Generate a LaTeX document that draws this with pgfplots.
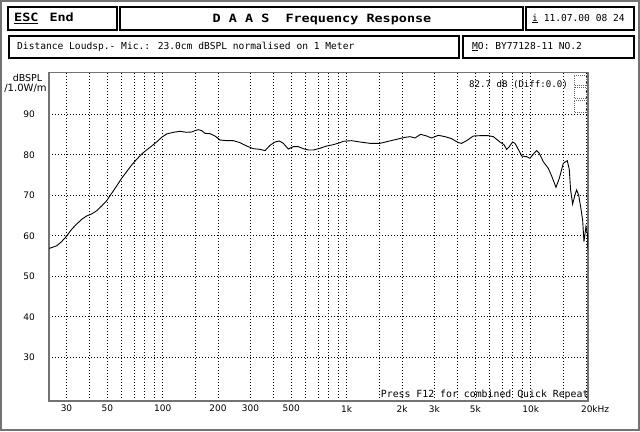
\documentclass[border=0pt]{standalone}
\usepackage{graphicx}
\usepackage{pgfplots}
\pgfplotsset{compat=1.18}
\usepackage{fontspec}
\setmainfont{DejaVu Sans}
\newfontfamily\mono{DejaVu Sans Mono}
\newfontfamily\sans{DejaVu Sans}
\begin{document}
\begin{tikzpicture}[x=1bp,y=1bp]
\path[use as bounding box] (0,0) rectangle (640,431);
\draw[black!55, line width=2bp] (1,1) rectangle (639,430);
% header boxes
\draw[line width=2bp] (8,401) rectangle (117,424);
\draw[line width=2bp] (119.5,401) rectangle (523,424);
\draw[line width=2bp] (526,401) rectangle (634,424);
\draw[line width=2bp] (9,372.7) rectangle (459,395);
\draw[line width=2bp] (463,372.7) rectangle (634,395);
\node[anchor=west, inner sep=0] at (14,412.5) {\mono\bfseries\fontsize{11.4bp}{12bp}\selectfont\scalebox{1.18}[1]{\underline{ESC}\hspace{2.5bp} End}};
\node[anchor=center, inner sep=0] at (322,412) {\mono\bfseries\fontsize{11.4bp}{12bp}\selectfont\scalebox{1.18}[1]{D~A~A~S~~Frequency Response}};
\node[anchor=west, inner sep=0] at (532,412.5) {\mono\fontsize{9.6bp}{11bp}\selectfont\underline{i} 11.07.00 08 24};
\node[anchor=west, inner sep=0] at (17,384.5) {\mono\fontsize{9.6bp}{11bp}\selectfont Distance Loudsp.- Mic.: 23.0cm dBSPL normalised on 1 Meter};
\node[anchor=west, inner sep=0] at (472,384.5) {\mono\fontsize{9.6bp}{11bp}\selectfont\underline{M}O: BY77128-11 NO.2};
% y unit labels
\node[inner sep=0] at (27.5,353) {\sans\fontsize{9.5bp}{11bp}\selectfont dBSPL};
\node[inner sep=0] at (25.5,342.7) {\sans\fontsize{10bp}{11bp}\selectfont /1.0W/m};
\begin{axis}[
  at={(49bp,30bp)}, anchor=south west,
  scale only axis, width=539bp, height=328.7bp,
  xmode=log, xmin=24.1, xmax=20500, ymin=19.2, ymax=100.37,
  axis line style={black!55, line width=1.5bp},
  xtick={30,50,100,200,300,500,1000,2000,3000,5000,10000,20000},
  xticklabels={30,50,100,200,300,500,1k,2k,3k,5k,10k,{\makebox[0pt][l]{\kern-5bp 20kHz}}},
  minor xtick={40,60,70,80,90,150,400,600,700,800,900,1500,4000,6000,7000,8000,9000,15000},
  ytick={30,40,50,60,70,80,90},
  yticklabels={30,40,50,60,70,80,90},
  grid=both,
  major grid style={black, line width=0.8bp, dash pattern=on 0.8bp off 2.2bp},
  minor grid style={black, line width=0.8bp, dash pattern=on 0.8bp off 2.2bp},
  major tick length=0pt, minor tick length=0pt,
  xticklabel style={font=\sans\fontsize{9bp}{10bp}\selectfont, anchor=north, inner sep=0pt, yshift=-4bp},
  yticklabel style={font=\sans\fontsize{9bp}{10bp}\selectfont, anchor=east, inner sep=0pt, xshift=-14bp},
]
\addplot[black, line width=0.9bp, no markers] coordinates {
(24.2,56.9) (26.5,57.5) (28.2,58.55) (30.1,59.95) (32.0,61.6) (34.1,62.9) (36.3,64.07) (38.6,64.89)
(41.1,65.38) (43.8,66.2) (46.6,67.36) (49.6,68.67) (52.8,70.49) (56.2,72.3) (59.8,74.19) (63.7,75.83)
(67.8,77.48) (72.2,78.88) (76.9,80.2) (81.8,81.19) (87.1,82.17) (92.7,83.16) (98.7,84.31) (105.1,85.14)
(114.3,85.55) (124.2,85.8) (135.0,85.55) (143.7,85.63) (149.8,85.96) (156.2,86.2) (162.9,85.96) (169.8,85.3)
(180.8,85.22) (192.4,84.64) (204.8,83.65) (222.7,83.49) (242.0,83.49) (263.1,83.0) (286.1,82.17) (310.9,81.51)
(338.0,81.35) (359.8,81.02) (383.1,82.34) (407.6,83.16) (430.4,83.41) (452.4,82.83) (481.6,81.43) (512.9,82.01)
(545.8,82.01) (581.2,81.51) (618.8,81.19) (658.8,81.19) (716.0,81.6) (778.2,82.17) (845.9,82.5) (919.5,83.0)
(959,83.33) (1064,83.49) (1181,83.16) (1339,82.83) (1517,82.83) (1684,83.33) (1869,83.82) (2074,84.31)
(2208,84.48) (2350,84.15) (2523,85.05) (2720,84.64) (2896,84.15) (3147,84.81) (3422,84.48) (3720,83.98)
(4044,83.0) (4216,82.83) (4487,83.49) (4877,84.64) (5302,84.72) (5886,84.72) (6266,84.48) (6811,83.16)
(7160,82.5) (7401,81.35) (7654,82.01) (7980,83.16) (8217,82.83) (8566,81.35) (8931,79.7) (9508,79.54)
(9913,79.13) (10421,80.36) (10775,81.02) (11140,80.36) (11713,78.3) (12469,76.66) (13002,74.77) (13727,71.97)
(14310,74.19) (15046,77.9) (15812,78.55) (16214,76.41) (16488,71.31) (16906,67.85) (17408,70.07) (17775,71.31)
(18226,70.07) (18689,67.19) (19164,63.9) (19486,58.55) (19978,62.25) (20399,60.2) (20500,56.5)
};
\end{axis}
% annotations inside plot
\node[anchor=west, inner sep=0] at (469,346) {\mono\fontsize{9.1bp}{10bp}\selectfont 82.7 dB (Diff:0.0)};
\draw[black!60, line width=0.7bp, dash pattern=on 0.7bp off 1.3bp] (574,346) rectangle (586,356);
\draw[black!60, line width=0.7bp, dash pattern=on 0.7bp off 1.3bp] (574,333) rectangle (586,344);
\draw[black!60, line width=0.7bp, dash pattern=on 0.7bp off 1.3bp] (574,319) rectangle (586,331);
\node[anchor=west, inner sep=0] at (380.7,36) {\mono\fontsize{9.85bp}{11bp}\selectfont Press F12 for combined Quick Repeat};
\end{tikzpicture}
\end{document}
